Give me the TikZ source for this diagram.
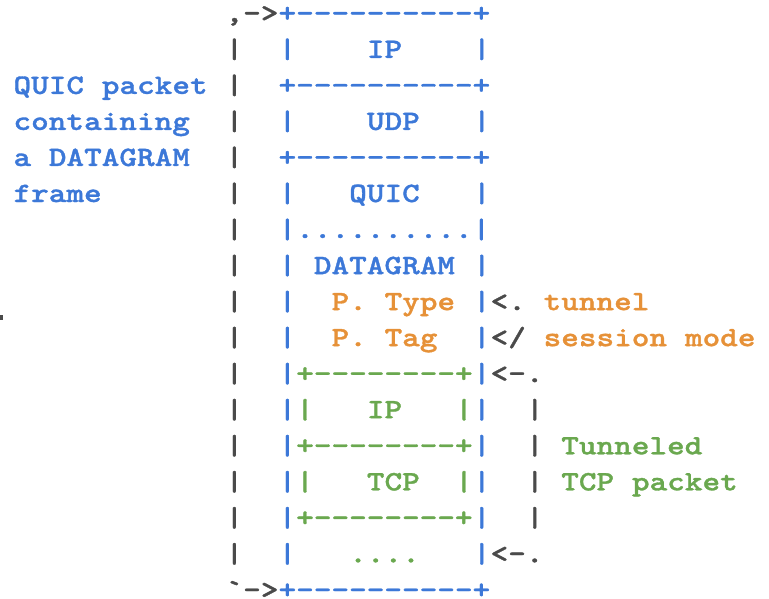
\documentclass[tikz,border=0pt]{standalone}
\usepackage{fontspec}
\newfontfamily\boxfont{lmmonolt10-bold.otf}[FakeStretch=1.2, FakeBold=1.2]
\definecolor{cblue}{HTML}{3C78D8}
\definecolor{corange}{HTML}{E69138}
\definecolor{cgreen}{HTML}{6AA84F}
\definecolor{cgray}{HTML}{4A4A4A}
\tikzset{
  glyphs/.style={anchor=base west, inner sep=0pt, outer sep=0pt,
    font=\boxfont\fontsize{28}{28}\selectfont},
}
% \seg{row}{column}{colour}{text}: one run of characters on the text grid
\newcommand\seg[4]{\node[glyphs, text=#3] (t#1x#2) at ({13.5+#2*17.67},{21.8+#1*36.04}) {#4};}
\begin{document}
\begin{tikzpicture}[x=1pt,y=-1pt]
\useasboundingbox (0,0) rectangle (769,598);
% caption on the left
\seg{2}{0}{cblue}{QUIC}\seg{2}{5}{cblue}{packet}
\seg{3}{0}{cblue}{containing}
\seg{4}{0}{cblue}{a}\seg{4}{2}{cblue}{DATAGRAM}
\seg{5}{0}{cblue}{frame}
% bracket spanning the outer packet
\seg{0}{12}{cgray}{,->}
\foreach \r in {1,...,15} {\seg{\r}{12}{cgray}{|}}
\seg{16}{12}{cgray}{`->}
% outer packet: IP / UDP / QUIC
\seg{0}{15}{cblue}{+----------+}
\seg{1}{15}{cblue}{|}\seg{1}{20}{cblue}{IP}\seg{1}{26}{cblue}{|}
\seg{2}{15}{cblue}{+----------+}
\seg{3}{15}{cblue}{|}\seg{3}{20}{cblue}{UDP}\seg{3}{26}{cblue}{|}
\seg{4}{15}{cblue}{+----------+}
\seg{5}{15}{cblue}{|}\seg{5}{19}{cblue}{QUIC}\seg{5}{26}{cblue}{|}
\seg{6}{15}{cblue}{|..........|}
\seg{7}{15}{cblue}{|}\seg{7}{17}{cblue}{DATAGRAM}\seg{7}{26}{cblue}{|}
\foreach \r in {8,...,15} {\seg{\r}{15}{cblue}{|}\seg{\r}{26}{cblue}{|}}
\seg{16}{15}{cblue}{+----------+}
% payload type and tag
\seg{8}{18}{corange}{P.}\seg{8}{21}{corange}{Type}
\seg{9}{18}{corange}{P.}\seg{9}{21}{corange}{Tag}
\seg{8}{27}{cgray}{<.}\seg{8}{30}{corange}{tunnel}
\seg{9}{27}{cgray}{</}\seg{9}{30}{corange}{session}\seg{9}{38}{corange}{mode}
% tunneled packet: IP / TCP
\seg{10}{16}{cgreen}{+--------+}
\seg{11}{16}{cgreen}{|}\seg{11}{20}{cgreen}{IP}\seg{11}{25}{cgreen}{|}
\seg{12}{16}{cgreen}{+--------+}
\seg{13}{16}{cgreen}{|}\seg{13}{20}{cgreen}{TCP}\seg{13}{25}{cgreen}{|}
\seg{14}{16}{cgreen}{+--------+}
\seg{15}{19}{cgreen}{....}
% bracket spanning the tunneled packet
\seg{10}{27}{cgray}{<-.}
\foreach \r in {11,...,14} {\seg{\r}{29}{cgray}{|}}
\seg{15}{27}{cgray}{<-.}
\seg{12}{31}{cgreen}{Tunneled}
\seg{13}{31}{cgreen}{TCP}\seg{13}{35}{cgreen}{packet}
% clipped mark at the left edge
\fill[cgray] (0,315) rectangle (3,320);
\end{tikzpicture}
\end{document}
